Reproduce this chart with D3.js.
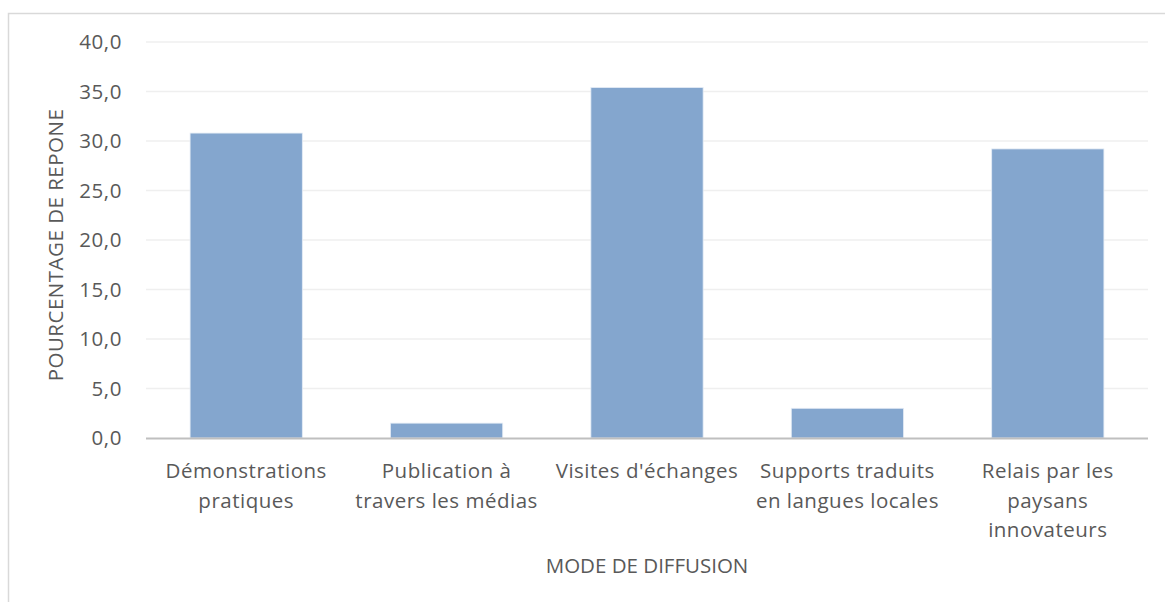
<!DOCTYPE html>
<html>
<head>
<meta charset="utf-8">
<script src="https://cdn.jsdelivr.net/npm/d3@7"></script>
<style>
  html, body { margin: 0; padding: 0; background: #fff; }
  svg text { font-family: "Open Sans", sans-serif; fill: #595959; }
</style>
</head>
<body>
<svg id="chart" width="1165" height="602"></svg>
<script>
const categories = [
  ["Démonstrations", "pratiques"],
  ["Publication à", "travers les médias"],
  ["Visites d'échanges"],
  ["Supports traduits", "en langues locales"],
  ["Relais par les", "paysans", "innovateurs"]
];
const values = [30.8, 1.5, 35.4, 3.0, 29.2];
const yTicks = [0, 5, 10, 15, 20, 25, 30, 35, 40];
const yTitle = "POURCENTAGE DE REPONE";
const xTitle = "MODE DE DIFFUSION";

(function () {
const svg = d3.select("#chart");
const W = 1165, H = 602;
const mLeft = 146, mRight = 1148, mTop = 42, mBottom = 438;
const FS = 20.5;

// chart border (only top & left visible, rest clipped)
svg.append("rect")
  .attr("x", 8.5).attr("y", 13.5)
  .attr("width", W + 10).attr("height", H + 10)
  .attr("fill", "none").attr("stroke", "#D9D9D9").attr("stroke-width", 1.5);

const x = d3.scaleBand()
  .domain(d3.range(categories.length))
  .range([mLeft, mRight])
  .paddingInner(0.44).paddingOuter(0.22);

const y = d3.scaleLinear().domain([0, 40]).range([mBottom, mTop]);

// gridlines
svg.append("g").selectAll("line")
  .data(yTicks.filter(d => d > 0))
  .join("line")
  .attr("x1", mLeft).attr("x2", mRight)
  .attr("y1", d => y(d)).attr("y2", d => y(d))
  .attr("stroke", "#EFEFEF").attr("stroke-width", 1.5);

// bars
svg.append("g").selectAll("rect")
  .data(values)
  .join("rect")
  .attr("x", (d, i) => x(i))
  .attr("width", x.bandwidth())
  .attr("y", d => y(d))
  .attr("height", d => y(0) - y(d))
  .attr("fill", "#84A6CE")
  .attr("stroke", "#E4ECF5").attr("stroke-width", 0.8);

// y axis labels
const yAxis = d3.axisLeft(y).tickValues(yTicks)
  .tickFormat(d => d3.format(".1f")(d).replace(".", ","))
  .tickSize(0).tickPadding(24);
const yg = svg.append("g").attr("transform", `translate(${mLeft},0)`).call(yAxis);
yg.select(".domain").remove();
yg.selectAll("text")
  .attr("font-size", FS).attr("fill", "#595959")
  .attr("letter-spacing", 0.6)
  .style("font-family", "'Open Sans', sans-serif");

// x axis line
svg.append("line")
  .attr("x1", mLeft).attr("x2", mRight)
  .attr("y1", y(0) + 0.5).attr("y2", y(0) + 0.5)
  .attr("stroke", "#BFBFBF").attr("stroke-width", 2);

// category labels
const cg = svg.append("g").selectAll("text")
  .data(categories)
  .join("text")
  .attr("text-anchor", "middle")
  .attr("font-size", FS)
  .attr("letter-spacing", 0.5)
  .attr("x", (d, i) => x(i) + x.bandwidth() / 2)
  .attr("y", 478);
cg.selectAll("tspan")
  .data(d => d)
  .join("tspan")
  .attr("x", function() { return d3.select(this.parentNode).attr("x"); })
  .attr("dy", (d, i) => i === 0 ? 0 : 29.5)
  .text(d => d);

// axis titles
svg.append("text")
  .attr("text-anchor", "middle")
  .attr("font-size", FS)
  .attr("x", (mLeft + mRight) / 2)
  .attr("y", 573)
  .text(xTitle);

svg.append("text")
  .attr("text-anchor", "middle")
  .attr("font-size", FS)
  .attr("letter-spacing", 0.5)
  .attr("transform", `translate(63, ${(mTop + mBottom) / 2 + 5}) rotate(-90)`)
  .text(yTitle);
})();
</script>
</body>
</html>
